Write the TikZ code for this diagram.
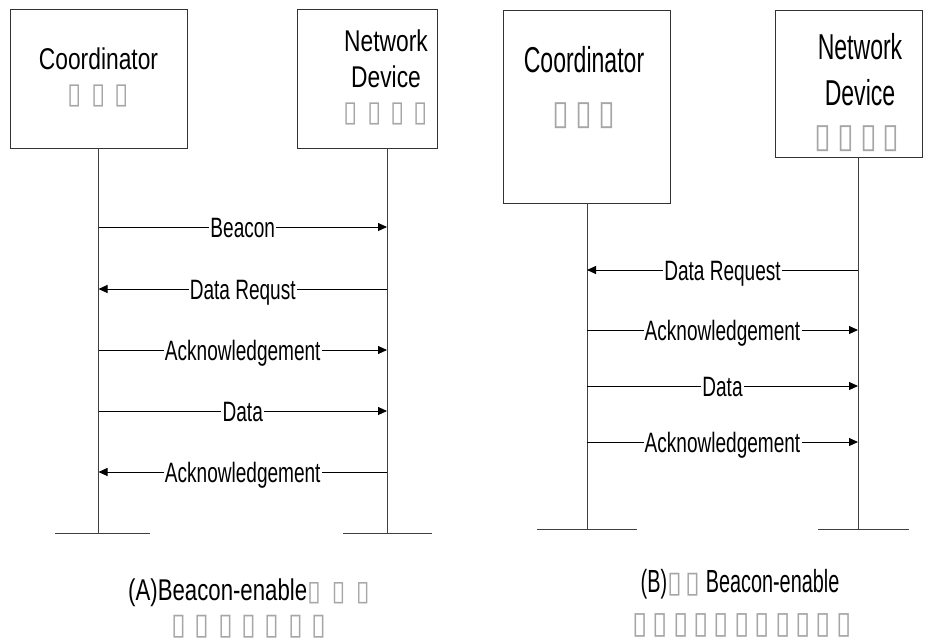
\documentclass[tikz,border=0pt]{standalone}
\usepackage{fontspec}
\setmainfont{Liberation Sans}
\newfontfamily\labfont{Liberation Sans}[FakeStretch=0.68]
\newfontfamily\afont{Liberation Sans}[FakeStretch=0.76]
\newfontfamily\bfont{Liberation Sans}[FakeStretch=0.64]
\newfontfamily\tatfont{Liberation Sans}[FakeStretch=0.74]
\newfontfamily\tbtfont{Liberation Sans}[FakeStretch=0.62]
\newfontfamily\tofufont{DejaVu Sans}[FakeStretch=0.9]
\usetikzlibrary{arrows.meta}
\newlength\tgap
\setlength\tgap{5pt}
\newcommand\tb{{\tofufont\textcolor{black!35}{▯}}}
\newcommand\ts{\hspace{\tgap}}
\begin{document}
\begin{tikzpicture}[x=1pt,y=-1pt,
  actor/.style={draw=black!80, line width=0.9pt, inner sep=0pt},
  life/.style={draw=black!75, line width=0.9pt},
  msg/.style={draw=black, line width=0.9pt, -{Triangle[length=9pt,width=8pt]}},
  lab/.style={fill=white, inner sep=1.2pt, font=\labfont\fontsize{28}{28}\selectfont, text height=20pt, text depth=0pt},
  atxt/.style={inner sep=0pt, font=\afont\fontsize{30}{30}\selectfont},
  btxt/.style={inner sep=0pt, font=\bfont\fontsize{36}{36}\selectfont},
  tofuA/.style={inner sep=0pt, font={\fontsize{29}{29}\selectfont\setlength\tgap{9pt}}},
  tofuB/.style={inner sep=0pt, font={\fontsize{34}{34}\selectfont\setlength\tgap{6pt}}},
  tofuAt/.style={inner sep=0pt, font={\fontsize{30}{30}\selectfont\setlength\tgap{8.5pt}}},
  tofuBt/.style={inner sep=0pt, font={\fontsize{31}{31}\selectfont\setlength\tgap{5pt}}},
  titA/.style={inner sep=0pt, font={\tatfont\fontsize{30}{30}\selectfont\setlength\tgap{10.5pt}}},
  titB/.style={inner sep=0pt, font={\tbtfont\fontsize{32}{32}\selectfont\setlength\tgap{4pt}}}
]
\useasboundingbox (0,0) rectangle (933,642);

% ---------- Panel A ----------
\node[actor, minimum width=177pt, minimum height=139pt] (cA) at (98.5,78.5) {};
\node[actor, minimum width=140pt, minimum height=139pt] (nA) at (367,78.5) {};
\node[atxt] (cAt1) at (98.5,59) {Coordinator};
\node[tofuA] (cAt2) at (98.5,96) {\tb\ts\tb\ts\tb};
\node[atxt] (nAt1) at (386,41) {Network};
\node[atxt] (nAt2) at (386,77) {Device};
\node[tofuA] (nAt3) at (386,114) {\tb\ts\tb\ts\tb\ts\tb};

\coordinate (lAct) at (98.5,148);
\coordinate (lAcb) at (98.5,533);
\coordinate (lAnt) at (387,148);
\coordinate (lAnb) at (387,533);
\draw[life] (lAct) -- (lAcb);
\draw[life] (lAnt) -- (lAnb);
\coordinate (fAc1) at (55,533); \coordinate (fAc2) at (150,533);
\coordinate (fAn1) at (343,533); \coordinate (fAn2) at (432,533);
\draw[life] (fAc1) -- (fAc2);
\draw[life] (fAn1) -- (fAn2);

\coordinate (a1l) at (98.5,227); \coordinate (a1r) at (387,227);
\coordinate (a2l) at (98.5,289); \coordinate (a2r) at (387,289);
\coordinate (a3l) at (98.5,350); \coordinate (a3r) at (387,350);
\coordinate (a4l) at (98.5,411); \coordinate (a4r) at (387,411);
\coordinate (a5l) at (98.5,472); \coordinate (a5r) at (387,472);
\draw[msg] (a1l) -- node[lab] (m1) {Beacon} (a1r);
\draw[msg] (a2r) -- node[lab] (m2) {Data Requst} (a2l);
\draw[msg] (a3l) -- node[lab] (m3) {Acknowledgement} (a3r);
\draw[msg] (a4l) -- node[lab] (m4) {Data} (a4r);
\draw[msg] (a5r) -- node[lab] (m5) {Acknowledgement} (a5l);

\node[titA] (tA1) at (249,593) {(A)Beacon-enable{\fontsize{28}{28}\selectfont\tb\ts\tb\ts\tb}};
\node[tofuAt] (tA2) at (249,627) {\tb\ts\tb\ts\tb\ts\tb\ts\tb\ts\tb\ts\tb};

% ---------- Panel B ----------
\node[actor, minimum width=167pt, minimum height=193pt] (cB) at (586.5,106.5) {};
\node[actor, minimum width=147pt, minimum height=147pt] (nB) at (848.5,83.5) {};
\node[btxt] (cBt1) at (584,60) {Coordinator};
\node[tofuB] (cBt2) at (584,116) {\tb\ts\tb\ts\tb};
\node[btxt] (nBt1) at (860,47) {Network};
\node[btxt] (nBt2) at (860,93) {Device};
\node[tofuB] (nBt3) at (857,139) {\tb\ts\tb\ts\tb\ts\tb};

\coordinate (lBct) at (587,203);
\coordinate (lBcb) at (587,529);
\coordinate (lBnt) at (858,157);
\coordinate (lBnb) at (858,529);
\draw[life] (lBct) -- (lBcb);
\draw[life] (lBnt) -- (lBnb);
\coordinate (fBc1) at (537,529); \coordinate (fBc2) at (637,529);
\coordinate (fBn1) at (818,529); \coordinate (fBn2) at (909,529);
\draw[life] (fBc1) -- (fBc2);
\draw[life] (fBn1) -- (fBn2);

\coordinate (b1l) at (587,270); \coordinate (b1r) at (858,270);
\coordinate (b2l) at (587,330); \coordinate (b2r) at (858,330);
\coordinate (b3l) at (587,386); \coordinate (b3r) at (858,386);
\coordinate (b4l) at (587,442); \coordinate (b4r) at (858,442);
\draw[msg] (b1r) -- node[lab] (n1) {Data Request} (b1l);
\draw[msg] (b2l) -- node[lab] (n2) {Acknowledgement} (b2r);
\draw[msg] (b3l) -- node[lab] (n3) {Data} (b3r);
\draw[msg] (b4l) -- node[lab] (n4) {Acknowledgement} (b4r);

\node[titB] (tB1) at (740,584) {(B){\fontsize{30}{30}\selectfont\tb\ts\tb}\hspace{5pt}Beacon-enable};
\node[tofuBt] (tB2) at (742,625) {\tb\ts\tb\ts\tb\ts\tb\ts\tb\ts\tb\ts\tb\ts\tb\ts\tb\ts\tb\ts\tb};
\end{tikzpicture}
\end{document}
